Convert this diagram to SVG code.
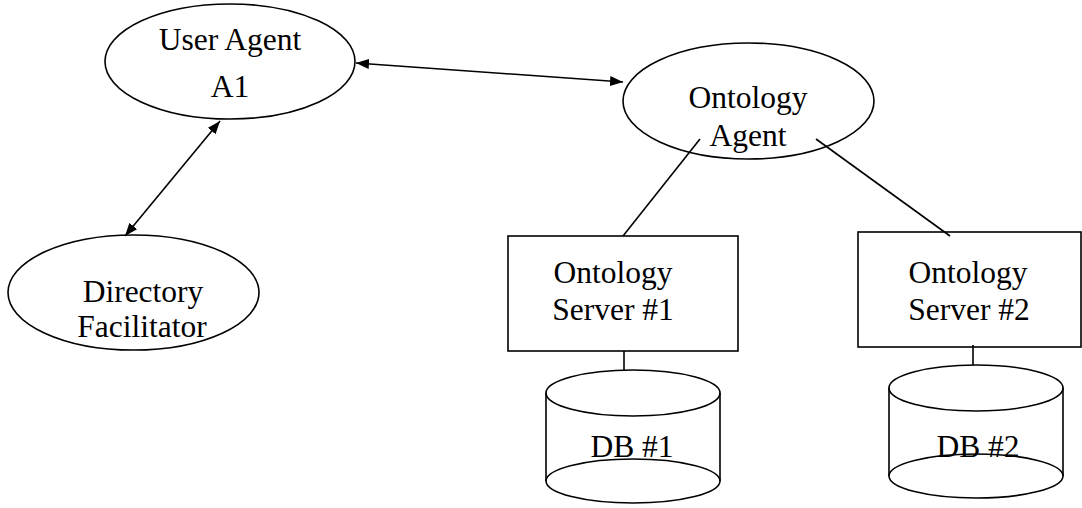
<svg xmlns="http://www.w3.org/2000/svg" width="1082" height="508" viewBox="0 0 1082 508">
<style>
.s{fill:none;stroke:#000;stroke-width:1.6}
.t{font-family:"Liberation Serif","Times New Roman",serif;font-size:31.5px;fill:#000;text-anchor:middle}
</style>
<defs>
<marker id="ah" viewBox="0 0 13 10" refX="13" refY="5" markerWidth="13" markerHeight="10" markerUnits="userSpaceOnUse" orient="auto-start-reverse">
<path d="M0,0 L13,5 L0,10 Z" fill="#000"/>
</marker>
</defs>
<rect width="1082" height="508" fill="#fff"/>
<g id="user-agent">
<ellipse class="s" cx="230" cy="61.5" rx="125" ry="57.5"/>
<text class="t" x="230" y="50">User Agent</text>
<text class="t" x="230" y="97">A1</text>
</g>
<g id="ontology-agent">
<ellipse class="s" cx="748.5" cy="101" rx="125.5" ry="58"/>
<text class="t" x="748" y="108">Ontology</text>
<text class="t" x="748" y="146">Agent</text>
</g>
<g id="directory-facilitator">
<ellipse class="s" cx="133.5" cy="292.5" rx="125.5" ry="57.5"/>
<text class="t" x="143" y="302">Directory</text>
<text class="t" x="142" y="337">Facilitator</text>
</g>
<g id="ontology-server-1">
<rect class="s" x="508" y="236" width="230" height="115"/>
<text class="t" x="613" y="283">Ontology</text>
<text class="t" x="613" y="320">Server #1</text>
</g>
<g id="ontology-server-2">
<rect class="s" x="858" y="232" width="223" height="115"/>
<text class="t" x="968" y="283">Ontology</text>
<text class="t" x="969" y="320">Server #2</text>
</g>
<g id="db-1">
<ellipse class="s" cx="633" cy="393" rx="87" ry="23"/>
<path class="s" d="M546,393 V481 M720,393 V481"/>
<ellipse class="s" cx="633" cy="481" rx="87" ry="22"/>
<text class="t" x="632" y="457">DB #1</text>
</g>
<g id="db-2">
<ellipse class="s" cx="976" cy="388" rx="87" ry="23"/>
<path class="s" d="M889,388 V476 M1063,388 V476"/>
<ellipse class="s" cx="976" cy="476" rx="87" ry="22"/>
<text class="t" x="978" y="457">DB #2</text>
</g>
<g id="connectors">
<line class="s" x1="356" y1="63" x2="623" y2="82" marker-start="url(#ah)" marker-end="url(#ah)"/>
<line class="s" x1="220" y1="121" x2="125" y2="236" marker-start="url(#ah)" marker-end="url(#ah)"/>
<line class="s" x1="700" y1="139" x2="623" y2="236"/>
<line class="s" x1="816" y1="139" x2="950" y2="236"/>
<line class="s" x1="624" y1="351" x2="624" y2="370"/>
<line class="s" x1="973" y1="345" x2="973" y2="365"/>
</g>
</svg>
